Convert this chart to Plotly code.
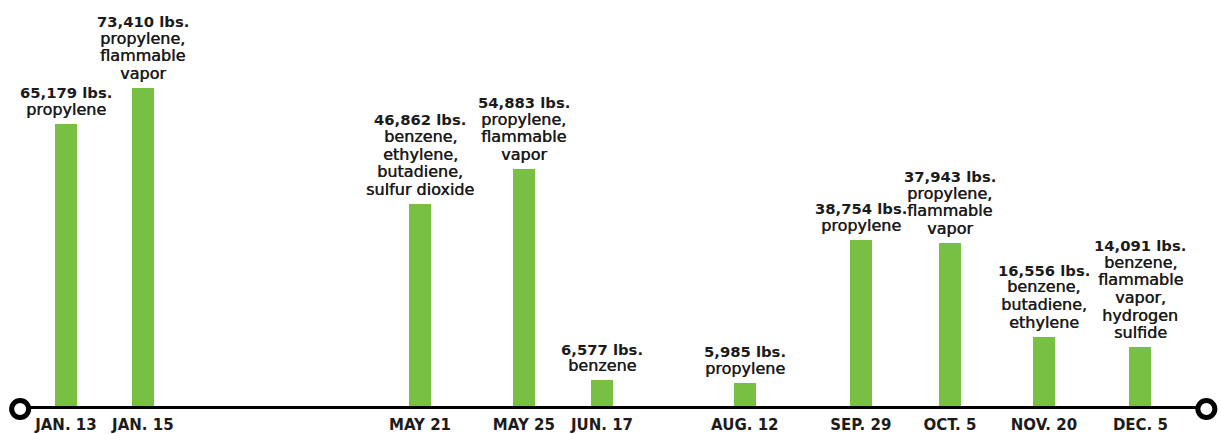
import plotly.graph_objects as go

# ---- data ----
dates = ["JAN. 13", "JAN. 15", "MAY 21", "MAY 25", "JUN. 17",
         "AUG. 12", "SEP. 29", "OCT. 5", "NOV. 20", "DEC. 5"]
pounds = [65179, 73410, 46862, 54883, 6577, 5985, 38754, 37943, 16556, 14091]
chemicals = [
    ["propylene"],
    ["propylene,", "flammable", "vapor"],
    ["benzene,", "ethylene,", "butadiene,", "sulfur dioxide"],
    ["propylene,", "flammable", "vapor"],
    ["benzene"],
    ["propylene"],
    ["propylene"],
    ["propylene,", "flammable", "vapor"],
    ["benzene,", "butadiene,", "ethylene"],
    ["benzene,", "flammable", "vapor,", "hydrogen", "sulfide"],
]
# timeline slot positions (layout, on a 0-100 timeline scale)
slots = [5.4, 11.7, 34.4, 42.9, 49.3, 61.0, 70.5, 77.8, 85.5, 93.4]
timeline_ends = [1.65, 98.8]

GREEN = "#77c043"
INK = "#1b1b1b"
FONT = "DejaVu Sans"
LINE_STEP = 17.7   # px between label lines
LABEL_GAP = 3      # px between bar top and label block

fig = go.Figure()
fig.add_trace(go.Bar(
    x=slots, y=pounds, width=1.8, marker=dict(color=GREEN, line=dict(width=0)),
    hoverinfo="skip"))

fig.add_trace(go.Scatter(
    x=timeline_ends, y=[0, 0], mode="lines+markers",
    line=dict(color="#000000", width=6),
    marker=dict(symbol="circle", size=17, color="white",
                line=dict(color="#000000", width=5)),
    cliponaxis=False, hoverinfo="skip"))

for xs, lb, chem in zip(slots, pounds, chemicals):
    lines = ["<b>{:,} lbs.</b>".format(lb)] + chem
    n = len(lines)
    for i, ln in enumerate(lines):
        head = (i == 0)
        fig.add_annotation(
            x=xs, y=lb, text=ln, showarrow=False,
            yanchor="bottom", xanchor="center",
            yshift=LABEL_GAP + (n - 1 - i) * LINE_STEP,
            font=dict(family=FONT, size=14.8 if head else 16, color=INK,
                      shadow="none" if head else "0.45px 0 0 #1b1b1b"))

fig.update_layout(
    width=1221, height=434,
    margin=dict(l=0, r=0, t=0, b=25, pad=0),
    paper_bgcolor="white", plot_bgcolor="white",
    showlegend=False, bargap=0,
    xaxis=dict(range=[0, 100], tickvals=slots, ticktext=dates,
               showgrid=False, zeroline=False, showline=False, ticks="",
               automargin=False, ticklabelstandoff=5,
               tickfont=dict(family=FONT, size=15, color=INK, weight="bold")),
    yaxis=dict(range=[0, 93530], visible=False, showgrid=False,
               zeroline=False, automargin=False),
)

fig.write_html("out.html")
